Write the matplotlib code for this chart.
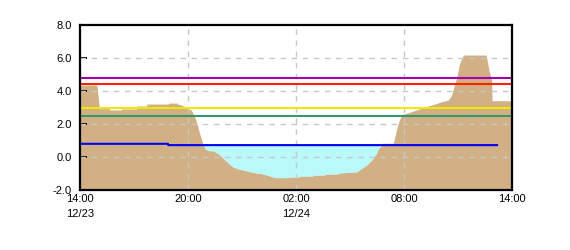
import matplotlib
matplotlib.use("Agg")
import matplotlib.pyplot as plt
import numpy as np

plt.rcParams['font.family'] = ['Liberation Sans', 'DejaVu Sans']

# hours after 12/23 14:00
terrain_h = [0.00, 0.90, 0.95, 1.02, 1.08, 1.65, 1.66, 2.30, 2.31, 3.14, 3.15, 3.70, 3.71,
             4.93, 4.94, 5.40, 5.41, 5.65, 5.85, 6.18, 6.37, 6.52, 6.67, 6.79, 6.96,
             7.17, 7.39, 7.59, 7.78, 7.96, 8.15, 8.43, 8.70, 9.07, 9.63, 10.18, 10.56,
             10.83, 11.57, 11.60, 12.20, 12.21, 12.95, 12.96, 13.60, 13.61, 14.33, 14.34,
             15.00, 15.40, 15.56, 15.93, 16.21, 16.48, 16.57, 16.70, 16.78, 17.39, 17.44,
             17.56, 17.68, 17.78, 17.93, 18.15, 18.43, 18.70, 19.35, 19.72, 20.09, 20.46,
             20.65, 20.78, 20.89, 20.96, 21.07, 21.17, 21.30, 22.56, 22.63, 22.74, 22.87,
             22.89, 24.00]
terrain_v = [4.36, 4.36, 4.26, 3.50, 2.93, 2.93, 2.85, 2.85, 2.91, 2.91, 3.09, 3.09, 3.21,
             3.21, 3.27, 3.27, 3.21, 3.15, 3.00, 2.85, 2.45, 1.94, 1.33, 0.93, 0.48,
             0.38, 0.38, 0.26, 0.12, -0.08, -0.28, -0.55, -0.69, -0.79, -0.93, -1.03, -1.15,
             -1.25, -1.25, -1.21, -1.21, -1.15, -1.15, -1.09, -1.09, -1.03, -1.03, -0.97,
             -0.93, -0.89, -0.75, -0.48, -0.18, 0.25, 0.50, 0.65, 0.83, 0.83, 0.99,
             1.53, 2.04, 2.34, 2.59, 2.65, 2.75, 2.85, 3.09, 3.21, 3.35, 3.45,
             3.76, 4.26, 4.67, 4.97, 5.58, 5.88, 6.18, 6.18, 5.78, 5.17, 4.67,
             3.41, 3.41]

water_h = [0.0, 4.89, 4.90, 23.17]
water_v = [0.80, 0.80, 0.72, 0.72]

levels = [4.80, 4.42, 2.97, 2.48]
level_colors = ['#A800A8', '#FF2200', '#F0E800', '#339966']

xtick_pos = [0, 6, 12, 18, 24]
xtick_labels = ['14:00\n12/23', '20:00', '02:00\n12/24', '08:00', '14:00']
ytick_pos = [-2, 0, 2, 4, 6, 8]
ytick_labels = ['-2.0', '0.0', '2.0', '4.0', '6.0', '8.0']

fig = plt.figure(figsize=(5.7, 2.5), dpi=100)
ax = fig.add_axes([80/570, 60/250, 432/570, 165/250])

th = np.array(terrain_h)
tv = np.array(terrain_v)
wl = np.interp(th, water_h, water_v)
ax.fill_between(th, -2, tv, color='#D0B084', lw=0, zorder=1)
ax.fill_between(th, tv, wl, where=(tv < wl) & (th <= water_h[-1]), interpolate=True,
                color='#B9F9F9', lw=0, zorder=1)

ax.set_xlim(0, 24)
ax.set_ylim(-2, 8)
ax.set_xticks(xtick_pos)
ax.set_xticklabels(xtick_labels)
ax.set_yticks(ytick_pos)
ax.set_yticklabels(ytick_labels)

for y in [0, 2, 4, 6]:
    ax.axhline(y, color='#C8C8C8', lw=1, ls=(0, (4, 4)), zorder=2)
for x in [6, 12, 18]:
    ax.axvline(x, color='#C8C8C8', lw=1, ls=(0, (4, 4)), zorder=2)

for lv, c in zip(levels, level_colors):
    ax.axhline(lv, color=c, lw=1.5, zorder=3)
ax.plot(water_h, water_v, color='#0000EE', lw=1.5, zorder=3)

for s in ax.spines.values():
    s.set_linewidth(1.6)
    s.set_zorder(5)
ax.tick_params(axis='y', direction='in', length=5, width=1.4, pad=6, labelsize=8)
ax.tick_params(axis='x', length=0, pad=3, labelsize=8)
for t in ax.get_xticklabels():
    t.set_linespacing(1.6)

fig.savefig('out.png', dpi=100)
